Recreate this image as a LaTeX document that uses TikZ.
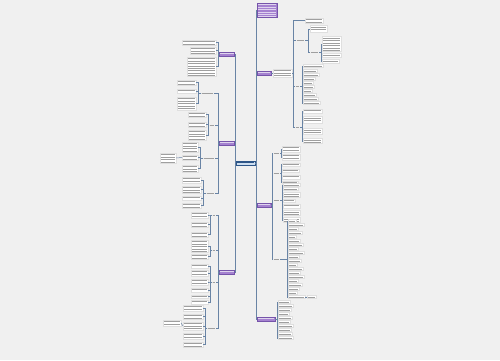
\documentclass[tikz,border=0pt]{standalone}
\usepackage[dvipsnames]{xcolor}
\usetikzlibrary{positioning}
\definecolor{bgcol}{RGB}{240,240,240}
\definecolor{linkcol}{RGB}{105,132,165}
\definecolor{branchfill}{RGB}{165,130,208}
\definecolor{branchdraw}{RGB}{118,84,170}
\definecolor{rootfill}{RGB}{205,222,240}
\definecolor{rootdraw}{RGB}{45,85,135}
\tikzset{
  txtlines/.style={path picture={\foreach \k in {1,...,12}{
    \draw[#1,line width=0.7pt]
      ([xshift=0.7pt,yshift={-\k*2.4pt+0.6pt}]path picture bounding box.north west) --
      ([xshift=-0.7pt,yshift={-\k*2.4pt+0.6pt}]path picture bounding box.north east);}}},
  leaf/.style={fill=white,draw=gray!25,line width=0.25pt,inner sep=0pt,outer sep=0pt,txtlines=gray!75},
  twig/.style={inner sep=0pt,outer sep=0pt,txtlines=gray!75},
  branch/.style={fill=branchfill,draw=branchdraw,line width=0.4pt,inner sep=0pt,outer sep=0pt,txtlines=white!65!branchfill},
  root/.style={fill=rootfill,draw=rootdraw,line width=0.6pt,inner sep=0pt,outer sep=0pt,txtlines=rootdraw},
  link/.style={draw=linkcol,line width=0.5pt}
}
% node from x1 to x2, centred at y, with height h
\newcommand{\lf}[6][leaf]{\node[#1,minimum width={(#4-#3)*1pt},minimum height={#6*1pt}] (#2) at ({(#3+#4)/2},#5) {};}

\begin{document}
\begin{tikzpicture}[x=1pt,y=-1pt]
\useasboundingbox (0,0) rectangle (500,360);
\fill[bgcol] (0,0) rectangle (500,360);

% centre and main branches
\lf[root]{root}{236}{255}{163}{4}
\lf[branch]{R0}{257}{277}{10}{14}
\lf[branch]{R1}{257}{271}{73}{4}
\lf[branch]{R2}{257}{271}{205}{4}
\lf[branch]{R3}{257}{275}{319}{4}
\lf[branch]{L1}{219.5}{234.5}{54}{4}
\lf[branch]{L2}{219.5}{234.5}{143}{4}
\lf[branch]{L3}{219.5}{234.5}{272}{4}
\foreach \b in {L1,L2,L3}{\draw[link] (root.west) -- ++(-1,0) |- (\b.east);}
\foreach \b in {R0,R1,R2,R3}{\draw[link] (root.east) -- ++(1,0) |- (\b.west);}

% right branch 1
\lf{R1a}{273}{292}{73}{8}
\draw[link] (R1.east) -- (R1a.west);
\lf{R1b}{305}{323}{20.5}{5}
\lf[twig]{R1c}{296}{305}{40}{3}
\lf[twig]{R1d}{295}{300}{86}{3}
\lf[twig]{R1e}{295}{300}{127}{3}
\foreach \c in {R1b,R1c,R1d,R1e}{\draw[link] (R1a.east) -- ++(1,0) |- (\c.west);}
\lf{R1c1}{310}{327}{29}{7}
\lf[twig]{R1c2}{310}{319}{52}{3}
\foreach \c in {R1c1,R1c2}{\draw[link] (R1c.east) -- ++(3,0) |- (\c.west);}
\lf{R1c2a}{322}{341}{44}{15}
\lf{R1c2b}{322}{341}{55.5}{4}
\lf{R1c2c}{322}{339}{61}{3.5}
\foreach \c in {R1c2a,R1c2b,R1c2c}{\draw[link] (R1c2.east) -- ++(2,0) |- (\c.west);}
\foreach \y/\w [count=\i] in {66/20,71/14,75/16,79/12,83/10,87/11,91/9,95/13,99/15,103/17}{
  \lf{R1d\i}{303}{303+\w}{\y}{3}
  \draw[link] (R1d.east) -- ++(2,0) |- (R1d\i.west);}
\foreach \y/\h [count=\i] in {111/4,120/7,131.5/6,141/5}{
  \lf{R1e\i}{303}{322}{\y}{\h}
  \draw[link] (R1e.east) -- ++(2,0) |- (R1e\i.west);}

% right branch 2
\lf[twig]{R2a}{273}{280}{153}{3}
\lf[twig]{R2b}{273}{280}{173}{3}
\lf[twig]{R2c}{273}{280}{200}{3}
\lf[twig]{R2d}{273}{280}{259}{3}
\foreach \c in {R2a,R2b,R2c,R2d}{\draw[link] (R2.east) -- ++(1,0) |- (\c.west);}
\foreach \y/\h [count=\i] in {149/6,157/6}{
  \lf{R2a\i}{282}{300}{\y}{\h}
  \draw[link] (R2a.east) -- ++(1,0) |- (R2a\i.west);}
\foreach \y/\w/\h [count=\i] in {164.5/18/3,170.5/17/3,177/18/4,182.5/16/3}{
  \lf{R2b\i}{282}{282+\w}{\y}{\h}
  \draw[link] (R2b.east) -- ++(1,0) |- (R2b\i.west);}
\foreach \y/\w/\h [count=\i] in {185/17/3,189/15/3,195/17/5,200.5/12/3,206/17/4,213/17/5,220/17/5}{
  \lf{R2c\i}{283}{283+\w}{\y}{\h}
  \draw[link] (R2c.east) -- ++(2,0) |- (R2c\i.west);}
\foreach \y/\w [count=\i] in {221/8,225/16,229/10,233/14,237/8,241/12,245/15,249/10,253/16,257/11,
                              261/13,265/9,269/15,273/12,277/16,281/10,285/14,289/11,293/9,297/17}{
  \lf{R2d\i}{288}{288+\w}{\y}{3}
  \draw[link] (R2d.east) -- ++(7,0) |- (R2d\i.west);}
\lf{R2d20a}{307}{316}{297}{3}
\draw[link] (R2d20.east) -- (R2d20a.west);

% right branch 3
\foreach \y/\w [count=\i] in {302/12,306/15,310/13,314/11,318/14,322/12,326/15,330/13,334/14,338/15}{
  \lf{R3\i}{278}{278+\w}{\y}{3}
  \draw[link] (R3.east) -- ++(2,0) |- (R3\i.west);}

% left branch 1
\lf{L1a}{182}{216}{42.5}{5}
\lf{L1b}{190}{216}{50.5}{7}
\lf{L1c}{187}{216}{66.5}{19}
\foreach \c in {L1a,L1b,L1c}{\draw[link] (L1.west) -- ++(-1.5,0) |- (\c.east);}

% left branch 2
\lf[twig]{L2a}{201}{214}{93}{3}
\lf[twig]{L2b}{209}{215}{125}{3}
\lf[twig]{L2c}{203}{215}{158}{3}
\lf[twig]{L2d}{206}{215}{193}{3}
\foreach \c in {L2a,L2b,L2c,L2d}{\draw[link] (L2.west) -- ++(-1.5,0) |- (\c.east);}
\foreach \y/\h [count=\i] in {82.5/5,91/4,103.5/13}{
  \lf{L2a\i}{177}{196}{\y}{\h}
  \draw[link] (L2a.west) -- ++(-3,0) |- (L2a\i.east);}
\foreach \y/\h [count=\i] in {114.5/5,124.5/5,135/10}{
  \lf{L2b\i}{188}{206}{\y}{\h}
  \draw[link] (L2b.west) -- ++(-1,0) |- (L2b\i.east);}
\foreach \y/\h [count=\i] in {147/10,157.5/5,168.5/7}{
  \lf{L2c\i}{182}{198}{\y}{\h}
  \draw[link] (L2c.west) -- ++(-3,0) |- (L2c\i.east);}
\lf{L2c2a}{160}{176}{158}{10}
\draw[link] (L2c2.west) -- (L2c2a.east);
\foreach \y/\h [count=\i] in {180/6,189.5/7,198/4,205.5/5}{
  \lf{L2d\i}{182}{201}{\y}{\h}
  \draw[link] (L2d.west) -- ++(-3,0) |- (L2d\i.east);}

% left branch 3
\lf[twig]{L3a}{212}{216}{215}{3}
\lf[twig]{L3b}{212}{216}{250}{3}
\lf[twig]{L3c}{212}{216}{282}{3}
\lf[twig]{L3d}{207}{216}{328}{3}
\foreach \c in {L3a,L3b,L3c,L3d}{\draw[link] (L3.west) -- ++(-1.5,0) |- (\c.east);}
\foreach \y/\h [count=\i] in {215/6,224.5/5,234.5/5}{
  \lf{L3a\i}{191}{208}{\y}{\h}
  \draw[link] (L3a.west) -- ++(-2,0) |- (L3a\i.east);}
\foreach \y/\h [count=\i] in {246/12,256.5/5}{
  \lf{L3b\i}{191}{208}{\y}{\h}
  \draw[link] (L3b.west) -- ++(-2,0) |- (L3b\i.east);}
\foreach \y/\h [count=\i] in {266/4,273/6,282/6,290/4,296.5/3,302/4}{
  \lf{L3c\i}{191}{208}{\y}{\h}
  \draw[link] (L3c.west) -- ++(-2,0) |- (L3c\i.east);}
\foreach \y/\h [count=\i] in {308/6,316.5/5,326/8,336/6,344.5/5}{
  \lf{L3d\i}{183}{203}{\y}{\h}
  \draw[link] (L3d.west) -- ++(-2,0) |- (L3d\i.east);}
\lf{L3d3a}{163}{181}{323}{6}
\draw[link] (L3d3.west) -- (L3d3a.east);
\end{tikzpicture}
\end{document}
